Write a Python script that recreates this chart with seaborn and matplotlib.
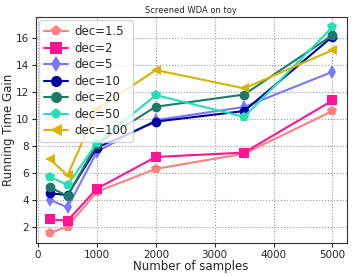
import numpy as np
import pandas as pd
import matplotlib
matplotlib.use("Agg")
import matplotlib.pyplot as plt
import seaborn as sns

samples = [200, 500, 1000, 2000, 3500, 5000]
labels = ["dec=1.5", "dec=2", "dec=5", "dec=10", "dec=20", "dec=50", "dec=100"]
gain_1_5 = [1.58, 2.07, 4.64, 6.33, 7.45, 10.6]
gain_2 = [2.6, 2.5, 4.87, 7.21, 7.53, 11.38]
gain_5 = [4.05, 3.48, 7.6, 9.93, 10.9, 13.5]
gain_10 = [4.52, 4.4, 7.9, 9.82, 10.6, 16.1]
gain_20 = [4.96, 4.33, 8.2, 10.92, 11.82, 16.2]
gain_50 = [5.75, 5.13, 8.25, 11.78, 10.17, 16.8]
gain_100 = [7.05, 5.85, 10.75, 13.63, 12.28, 15.1]
series = [gain_1_5, gain_2, gain_5, gain_10, gain_20, gain_50, gain_100]
colors = ["#ff8080", "#ff1493", "#7878ff", "#00009c", "#1b7b6b", "#22e0b4", "#d8b400"]
marker_list = ["p", "s", "d", "o", "o", "p", "<"]

rows = []
for lab, vals in zip(labels, series):
    for x, y in zip(samples, vals):
        rows.append({"samples": x, "gain": y, "dec": lab})
df = pd.DataFrame(rows)

sns.set_style("ticks")
plt.rcParams['font.family'] = ['DejaVu Sans']

fig = plt.figure(figsize=(3.54, 2.76), dpi=100)
ax = fig.add_axes([0.101, 0.118, 0.878, 0.821])

sns.lineplot(data=df, x="samples", y="gain", hue="dec", style="dec",
             hue_order=labels, style_order=labels,
             palette=dict(zip(labels, colors)),
             markers=dict(zip(labels, marker_list)), dashes=False,
             markersize=7, linewidth=1.5, markeredgewidth=0, ax=ax)

ax.grid(True, linestyle=":", color="#999999", linewidth=0.8)
ax.set_xticks([0, 1000, 2000, 3000, 4000, 5000])
ax.set_yticks([2, 4, 6, 8, 10, 12, 14, 16])
ax.tick_params(labelsize=7.5, length=3, width=0.8, pad=2)
ax.set_xlabel("Number of samples", fontsize=8.5)
ax.set_ylabel("Running Time Gain", fontsize=8.5)
ax.xaxis.set_label_coords(0.5, -0.072)
ax.yaxis.set_label_coords(-0.068, 0.5)
ax.set_title("Screened WDA on toy", fontsize=6, pad=3)
for s in ax.spines.values():
    s.set_color("#333333")
    s.set_linewidth(0.8)

leg = ax.legend(loc="upper left", fontsize=8.5, frameon=True, borderpad=0.4,
                labelspacing=0.3, handlelength=2.0, handletextpad=0.6,
                borderaxespad=0.3)
for h in leg.legend_handles:
    h.set_markersize(8)

fig.savefig("out.png", dpi=100)
